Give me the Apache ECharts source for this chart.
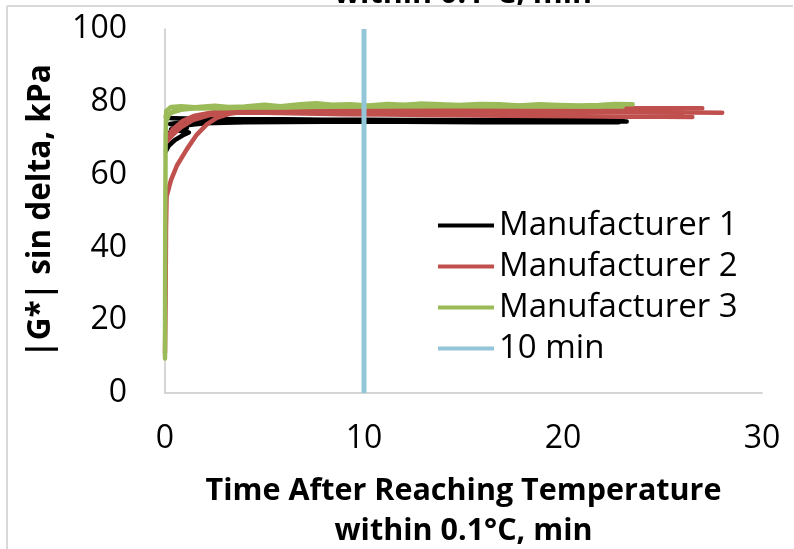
<!DOCTYPE html>
<html>
<head>
<meta charset="utf-8">
<script src="https://cdn.jsdelivr.net/npm/echarts@6/dist/echarts.min.js"></script>
<style>
  html, body { margin: 0; padding: 0; background: #ffffff; }
  #chart { width: 794px; height: 549px; }
</style>
</head>
<body>
<div id="chart"></div>
<script>
// Axis ranges and tick steps
const xTicks = [0, 10, 20, 30];
const yTicks = [0, 20, 40, 60, 80, 100];

// Manufacturer 1 replicate runs: [time (min), |G*| sin delta (kPa)]
const m1Run1 = [[0.05,75.6],[0.4,75.5],[1.0,75.4],[2.0,75.3],[4.0,75.2],[6.0,75.2],[8.0,75.1],[10.0,75.1],[12.0,75.0],[14.0,75.0],[16.0,75.0],[18.0,74.9],[20.0,74.9],[22.0,74.9],[23.0,74.9]];
const m1Run2 = [[0.05,71.0],[0.4,72.0],[1.1,72.8],[0.7,73.4],[0.25,73.9],[0.8,74.3],[1.6,74.6],[3.0,74.8],[6.0,74.8],[10.0,74.7],[14.0,74.7],[18.0,74.6],[22.0,74.6],[23.2,74.6]];
const m1Run3 = [[0.05,66.5],[0.2,68.0],[0.5,69.5],[0.9,70.8],[1.2,71.6],[0.8,72.0],[0.3,72.4],[0.6,73.0],[1.2,73.6],[2.0,74.1],[4.0,74.4],[8.0,74.5],[12.0,74.5],[16.0,74.4],[20.0,74.4],[22.8,74.4]];

// Manufacturer 2 replicate runs
const m2Run1 = [[0.0,11.0],[0.03,25.0],[0.05,45.0],[0.08,54.0],[0.3,58.5],[0.6,62.5],[1.1,67.0],[1.6,71.0],[2.1,73.8],[2.6,75.6],[3.3,76.8],[4.3,77.5],[5.5,77.7],[7.0,77.7],[9.0,77.6],[11.0,77.5],[13.0,77.4],[15.0,77.4],[17.0,77.3],[19.0,77.3],[21.0,77.2],[23.0,77.2],[25.0,77.1],[28.0,77.0]];
const m2Run2 = [[0.08,69.0],[0.4,71.0],[0.8,73.0],[1.4,75.0],[2.2,76.3],[3.4,77.0],[5.0,77.0],[7.0,76.8],[9.0,76.6],[11.0,76.5],[13.0,76.4],[15.0,76.3],[17.0,76.2],[19.0,76.1],[21.0,76.0],[23.0,75.9],[25.0,75.9],[26.5,75.8]];
const m2Run3 = [[0.08,70.0],[0.4,72.5],[0.9,74.8],[1.5,76.2],[2.5,77.2],[3.7,77.7],[6.0,77.8],[9.0,77.6],[12.0,77.5],[15.0,77.4],[18.0,77.3],[21.0,77.2],[24.0,77.1],[26.0,77.0]];
const m2Run4 = [[5.0,78.4],[7.0,78.4],[9.0,78.3],[11.0,78.3],[13.0,78.3],[15.0,78.3],[17.0,78.2],[19.0,78.3],[21.0,78.2],[23.0,78.2],[25.0,78.2],[27.0,78.2]];

// Manufacturer 3 replicate runs
const m3Run1 = [[0.0,9.5],[0.01,40.0],[0.03,70.0],[0.06,77.5],[0.3,78.6],[0.8,78.8],[1.5,78.5],[2.5,78.9],[3.2,78.6],[4.0,78.7],[5.0,79.2],[5.8,78.8],[6.8,79.3],[7.6,79.6],[8.4,79.2],[9.3,79.3],[10.2,79.0],[11.2,79.4],[12.0,79.2],[12.8,79.5],[13.8,79.3],[14.8,79.1],[15.8,79.4],[16.8,79.3],[17.8,79.0],[18.8,79.3],[19.8,79.1],[20.8,79.0],[21.8,79.1],[22.6,79.4],[23.5,79.3]];
const m3Run2 = [[0.05,74.5],[0.2,76.5],[0.5,77.8],[1.0,78.2],[2.0,78.3],[3.0,78.2],[4.0,78.4],[5.0,78.5],[6.0,78.4],[7.0,78.6],[9.0,78.7],[12.0,78.8],[15.0,78.8],[18.0,78.7],[21.0,78.7],[23.0,78.7]];
const m3Run3 = [[0.03,76.0],[0.3,77.0],[0.8,77.8],[1.5,78.2],[3.0,78.4],[6.0,78.6],[10.0,78.8],[14.0,78.9],[18.0,78.9],[22.0,78.8]];

// Reference marker at 10 minutes
const tenMinLine = [[10, 0], [10, 100]];

const FONT = "'Open Sans', 'DejaVu Sans', sans-serif";
const BLACK = '#000000', RED = '#C0504D', GREEN = '#9BBB59', BLUE = '#93C6D8';

function run(name, color, data) {
  return {
    name: name, type: 'line', data: data, showSymbol: false, symbol: 'none',
    lineStyle: { color: color, width: 4.5, cap: 'round', join: 'round' },
    itemStyle: { color: color }, silent: true
  };
}

const chart = echarts.init(document.getElementById('chart'), null, { renderer: 'canvas' });
chart.setOption({
  animation: false,
  backgroundColor: '#ffffff',
  grid: { left: 165, right: 32, top: 29, bottom: 156, containLabel: false, outerBoundsMode: 'none' },
  xAxis: {
    type: 'value', min: xTicks[0], max: xTicks[xTicks.length - 1], interval: 10,
    name: 'Time After Reaching Temperature\nwithin 0.1°C, min',
    nameLocation: 'middle', nameGap: 78,
    nameTextStyle: { fontFamily: FONT, fontWeight: 'bold', fontSize: 30.5, color: '#000', lineHeight: 40 },
    axisLine: { lineStyle: { color: '#C8C8C8', width: 1.5 } },
    axisTick: { show: false }, splitLine: { show: false },
    axisLabel: { fontFamily: FONT, fontSize: 32, color: '#000', margin: 30 }
  },
  yAxis: {
    type: 'value', min: yTicks[0], max: yTicks[yTicks.length - 1], interval: 20,
    name: '|G*| sin delta, kPa',
    nameLocation: 'middle', nameGap: 108,
    nameTextStyle: { fontFamily: FONT, fontWeight: 'bold', fontSize: 31.5, color: '#000' },
    axisLine: { show: true, lineStyle: { color: '#C8C8C8', width: 1.5 } },
    axisTick: { show: false }, splitLine: { show: false },
    axisLabel: { fontFamily: FONT, fontSize: 32, color: '#000', margin: 38 }
  },
  legend: {
    orient: 'vertical', left: 433, top: 204, itemWidth: 56, itemHeight: 4, itemGap: 8,
    icon: 'rect',
    data: ['Manufacturer 1', 'Manufacturer 2', 'Manufacturer 3', '10 min'],
    textStyle: { fontFamily: FONT, fontSize: 33, color: '#000', padding: [0, 0, 0, 0] }
  },
  series: [
    run('Manufacturer 1', BLACK, m1Run1),
    run('Manufacturer 1', BLACK, m1Run2),
    run('Manufacturer 1', BLACK, m1Run3),
    run('Manufacturer 2', RED, m2Run1),
    run('Manufacturer 2', RED, m2Run2),
    run('Manufacturer 2', RED, m2Run3),
    run('Manufacturer 2', RED, m2Run4),
    run('Manufacturer 3', GREEN, m3Run1),
    run('Manufacturer 3', GREEN, m3Run2),
    run('Manufacturer 3', GREEN, m3Run3),
    Object.assign(run('10 min', BLUE, tenMinLine), { lineStyle: { color: BLUE, width: 5, cap: 'butt' } })
  ],
  graphic: [
    { type: 'text', x: 463, y: -6, z: 1,
      style: { text: 'within 0.1°C, min', font: 'bold 30.5px ' + FONT, fill: '#000', align: 'center', verticalAlign: 'middle' } },
    { type: 'line', shape: { x1: 7, y1: 6, x2: 793, y2: 6 }, style: { stroke: '#D9D9D9', lineWidth: 2 }, z: 2 },
    { type: 'line', shape: { x1: 7, y1: 6, x2: 7, y2: 549 }, style: { stroke: '#D9D9D9', lineWidth: 2 }, z: 2 }
  ]
});
</script>
</body>
</html>
